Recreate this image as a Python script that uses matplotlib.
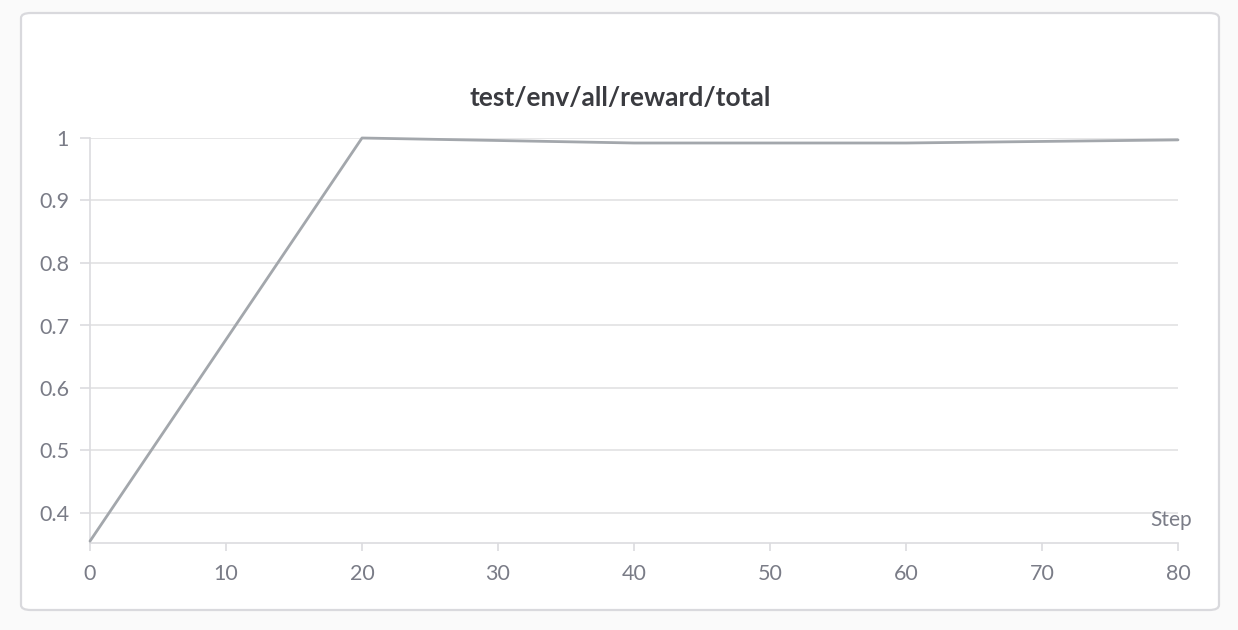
import matplotlib
matplotlib.use('Agg')
import matplotlib.pyplot as plt
from matplotlib.patches import FancyBboxPatch

# data
steps = [0, 20, 40, 60, 80]
reward = [0.355, 1.0, 0.992, 0.992, 0.997]
x_ticks = [0, 10, 20, 30, 40, 50, 60, 70, 80]
y_ticks = [0.4, 0.5, 0.6, 0.7, 0.8, 0.9, 1.0]
y_labels = ['0.4', '0.5', '0.6', '0.7', '0.8', '0.9', '1']
title = 'test/env/all/reward/total'

plt.rcParams['font.family'] = ['Lato', 'DejaVu Sans']

W, H = 1238, 630
fig = plt.figure(figsize=(W / 100, H / 100), dpi=100)
fig.patch.set_facecolor('#fafafa')

# panel card (behind the axes)
card = FancyBboxPatch((21 / W, (H - 610) / H), (1219 - 21) / W, (610 - 13) / H,
                      boxstyle='round,pad=0,rounding_size=0.008',
                      transform=fig.transFigure, facecolor='white',
                      edgecolor='#d9d9dd', linewidth=1.6, zorder=-5)
fig.patches.append(card)

ax = fig.add_axes([90 / W, (H - 543) / H, (1178 - 90) / W, (543 - 138) / H])
ax.set_facecolor('none')
ax.plot(steps, reward, color='#a3a7ac', linewidth=2.0, solid_capstyle='round',
        zorder=3, clip_on=False)

ax.set_xlim(0, 80)
ax.set_ylim(0.352, 1.0)
ax.set_xticks(x_ticks)
ax.set_yticks(y_ticks)
ax.set_yticklabels(y_labels)
ax.grid(axis='y', color='#e1e1e3', linewidth=1.2)
ax.tick_params(axis='both', colors='#dcdcdf', labelcolor='#7a7c87', labelsize=15.5,
               width=1.2)
ax.tick_params(axis='x', length=6, pad=9)
ax.tick_params(axis='y', length=7, pad=8)
for s in ['top', 'right']:
    ax.spines[s].set_visible(False)
for s in ['left', 'bottom']:
    ax.spines[s].set_color('#dcdcdf')
    ax.spines[s].set_linewidth(1.2)

ax.text(1.013, 0.057, 'Step', transform=ax.transAxes, ha='right', va='center',
        fontsize=15, color='#7a7c87')
fig.text(620 / W, (H - 98) / H, title, ha='center', va='center',
         fontsize=19, fontweight='bold', color='#3a3b40')

fig.savefig('out.png', dpi=100, facecolor=fig.get_facecolor())
